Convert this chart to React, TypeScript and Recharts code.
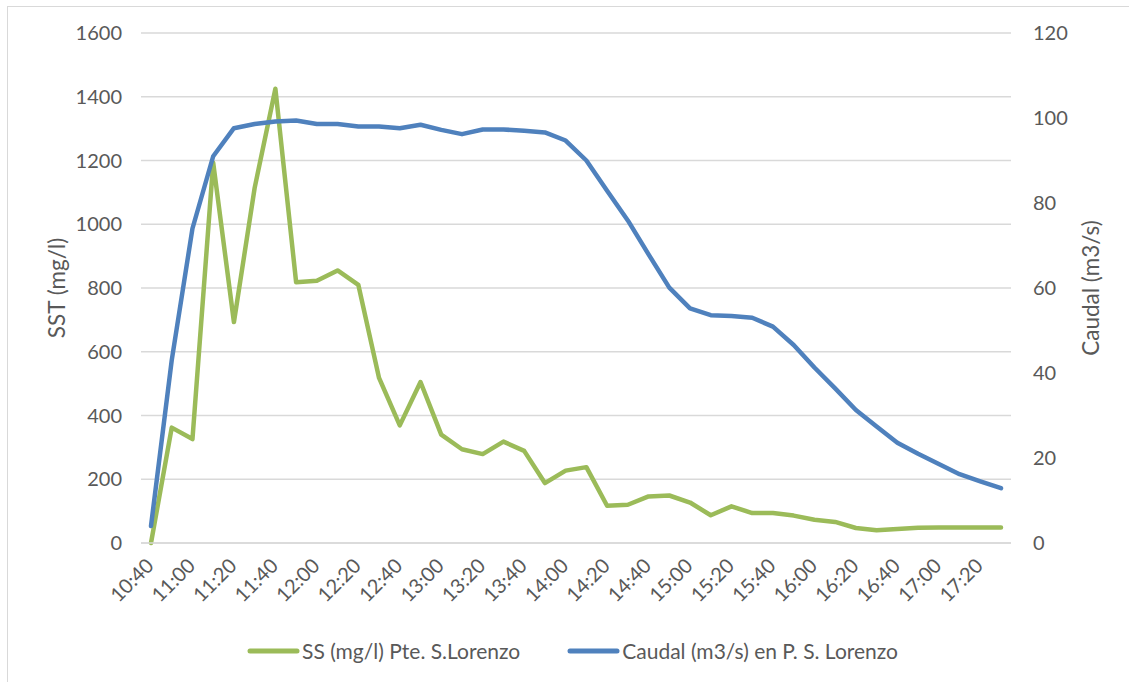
import React from 'react';
import { LineChart, Line, XAxis, YAxis, CartesianGrid, Legend, Label } from 'recharts';

const times = [
  '10:40', '10:50', '11:00', '11:10', '11:20', '11:30', '11:40', '11:50',
  '12:00', '12:10', '12:20', '12:30', '12:40', '12:50', '13:00', '13:10',
  '13:20', '13:30', '13:40', '13:50', '14:00', '14:10', '14:20', '14:30',
  '14:40', '14:50', '15:00', '15:10', '15:20', '15:30', '15:40', '15:50',
  '16:00', '16:10', '16:20', '16:30', '16:40', '16:50', '17:00', '17:10',
  '17:20', '17:30',
];

const ssValues = [
  0, 362, 326, 1193, 693, 1114, 1425, 818, 823, 855, 810, 518, 369, 505, 340, 294,
  279, 318, 289, 188, 227, 238, 117, 120, 146, 149, 127, 87, 115, 94, 94, 86,
  73, 66, 47, 40, 44, 48, 49, 49, 49, 49,
];

const caudalValues = [
  4, 43, 74, 91, 97.6, 98.6, 99.2, 99.4, 98.6, 98.6, 98, 98, 97.6, 98.4, 97.2, 96.2,
  97.3, 97.3, 97.0, 96.6, 94.7, 90, 82.9, 75.9, 67.9, 60.1, 55.2, 53.6, 53.4, 53.0, 50.9, 46.6,
  41.3, 36.4, 31.3, 27.4, 23.6, 21.0, 18.6, 16.2, 14.5, 12.9,
];

const leftTicks = [0, 200, 400, 600, 800, 1000, 1200, 1400, 1600];
const rightTicks = [0, 20, 40, 60, 80, 100, 120];
const seriesNames = ['SS (mg/l) Pte. S.Lorenzo', 'Caudal (m3/s) en P. S. Lorenzo'];
const leftTitle = 'SST (mg/l)';
const rightTitle = 'Caudal (m3/s)';

const data = times.map((t, i) => ({ time: t, ss: ssValues[i], caudal: caudalValues[i] }));

const FONT = 'Lato, "Open Sans", sans-serif';
const TEXT = '#595959';
const GREEN = '#9BBB59';
const BLUE = '#4F81BD';
const GRID = '#D9D9D9';
const FS = 20;
const FS_LEGEND = 21;
const FS_TITLE = 22.5;

const XTick = (props: any) => {
  const { x, y, payload } = props;
  const ax = x + 4;
  const ay = y + 24;
  return (
    <text
      x={ax}
      y={ay}
      transform={`rotate(-45 ${ax} ${ay})`}
      textAnchor="end"
      fill={TEXT}
      fontSize={FS}
      fontFamily={FONT}
    >
      {payload.value}
    </text>
  );
};

const axisTitle = (text: string, dx: number) => (props: any) => {
  const vb = props.viewBox || {};
  const cx = vb.x + dx;
  const cy = vb.y + vb.height / 2;
  return (
    <text
      x={cx}
      y={cy}
      transform={`rotate(-90 ${cx} ${cy})`}
      textAnchor="middle"
      dominantBaseline="central"
      fill={TEXT}
      fontSize={FS_TITLE}
      fontFamily={FONT}
    >
      {text}
    </text>
  );
};

const renderLegend = (props: any) => {
  const payload = [...(props.payload || [])].sort(
    (a: any, b: any) => seriesNames.indexOf(a.value) - seriesNames.indexOf(b.value)
  );
  return (
    <div
      style={{
        display: 'flex',
        justifyContent: 'center',
        alignItems: 'center',
        height: 40,
        paddingTop: 16,
        paddingLeft: 16,
        boxSizing: 'border-box',
        fontFamily: FONT,
        fontSize: FS_LEGEND,
        color: TEXT,
      }}
    >
      {payload.map((p: any, i: number) => (
        <div
          key={p.value}
          style={{ display: 'flex', alignItems: 'center', marginRight: i === 0 ? 47 : 0 }}
        >
          <svg width={53} height={8} style={{ display: 'block' }}>
            <line x1={3} y1={4} x2={50} y2={4} stroke={p.color} strokeWidth={5} strokeLinecap="round" />
          </svg>
          <span style={{ marginLeft: 2, lineHeight: '20px' }}>{p.value}</span>
        </div>
      ))}
    </div>
  );
};

export default function App() {
  return (
    <div
      style={{
        position: 'absolute',
        left: 0,
        top: 0,
        width: 1129,
        height: 682,
        overflow: 'hidden',
        background: '#fff',
      }}
    >
      <div
        style={{
          position: 'absolute',
          left: 7,
          top: 6,
          width: 1122,
          height: 676,
          borderLeft: `1px solid ${GRID}`,
          borderTop: `1px solid ${GRID}`,
          boxSizing: 'border-box',
        }}
      />
      <div style={{ position: 'absolute', left: 0, top: 0 }}>
        <LineChart
          width={1129}
          height={682}
          data={data}
          margin={{ top: 33, right: 0, bottom: 19, left: 0 }}
        >
          <CartesianGrid yAxisId="left" vertical={false} stroke={GRID} strokeWidth={1.3} />
          <XAxis
            dataKey="time"
            interval={1}
            tick={<XTick />}
            tickLine={false}
            tickSize={0}
            tickMargin={0}
            axisLine={{ stroke: GRID, strokeWidth: 1.3 }}
            height={80}
            padding={{ left: 10, right: 10 }}
          />
          <YAxis
            yAxisId="left"
            orientation="left"
            width={141}
            domain={[0, 1600]}
            ticks={leftTicks}
            axisLine={false}
            tickLine={false}
            tickSize={0}
            tickMargin={19}
            tick={{ fill: TEXT, fontSize: FS, fontFamily: FONT }}
          >
            <Label content={axisTitle(leftTitle, 56)} />
          </YAxis>
          <YAxis
            yAxisId="right"
            orientation="right"
            width={118}
            domain={[0, 120]}
            ticks={rightTicks}
            axisLine={false}
            tickLine={false}
            tickSize={0}
            tickMargin={22}
            tick={{ fill: TEXT, fontSize: FS, fontFamily: FONT, textAnchor: 'start' }}
          >
            <Label content={axisTitle(rightTitle, 79)} />
          </YAxis>
          <Legend verticalAlign="bottom" height={40} content={renderLegend} />
          <Line
            yAxisId="left"
            type="linear"
            dataKey="ss"
            name={seriesNames[0]}
            stroke={GREEN}
            strokeWidth={4.5}
            strokeLinejoin="round"
            strokeLinecap="round"
            dot={false}
            activeDot={false}
            isAnimationActive={false}
          />
          <Line
            yAxisId="right"
            type="linear"
            dataKey="caudal"
            name={seriesNames[1]}
            stroke={BLUE}
            strokeWidth={4.5}
            strokeLinejoin="round"
            strokeLinecap="round"
            dot={false}
            activeDot={false}
            isAnimationActive={false}
          />
        </LineChart>
      </div>
    </div>
  );
}
